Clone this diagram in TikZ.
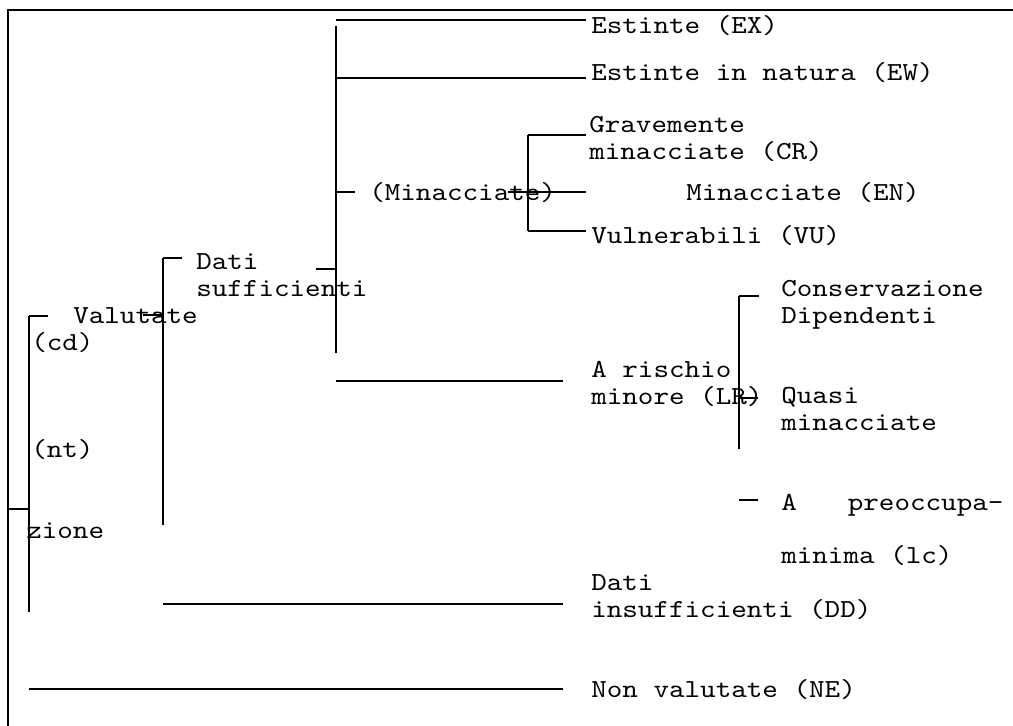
\documentclass[tikz,border=0pt]{standalone}
\usepackage{fontspec}
\newfontfamily\courfont{lmmono10-regular.otf}[FakeStretch=1.14]
\usetikzlibrary{positioning}

\begin{document}
\begin{tikzpicture}[x=1pt, y=-1pt, line width=2.6pt,
 lbl/.style={anchor=base west, inner sep=0pt, align=left,
 font=\courfont\fontsize{26}{27}\selectfont}]
 \useasboundingbox (0,0) rectangle (1013,726);
 % frame
 \coordinate (fb) at (8,726); \coordinate (fc) at (8,10); \coordinate (fr) at (1013,10);
 \draw (fb) -- (fc) -- (fr);
 % labels (base = last line)
 \node[lbl] (val) at (72,323) {Valutate};
 \node[lbl] (cd) at (30,350) {(cd)};
 \node[lbl] (nt) at (30,457) {(nt)};
 \node[lbl] (zi) at (25,538) {zione};
 \node[lbl] (ds) at (195,296) {Dati\\sufficienti};
 \node[lbl] (ex) at (590,33) {Estinte (EX)};
 \node[lbl] (ew) at (590,80) {Estinte in natura (EW)};
 \node[lbl] (mi) at (368,200) {(Minacciate)};
 \node[lbl] (cr) at (588,159) {Gravemente\\minacciate (CR)};
 \node[lbl] (en) at (685,200) {Minacciate (EN)};
 \node[lbl] (vu) at (590,243) {Vulnerabili (VU)};
 \node[lbl] (lr) at (590,404) {A rischio\\minore (LR)};
 \node[lbl] (cdp) at (780,323) {Conservazione\\Dipendenti};
 \node[lbl] (nqt) at (780,430) {Quasi\\minacciate};
 \node[lbl] (lc) at (780,510) {A\hspace{51pt}preoccupa-};
 \node[lbl] (lc2) at (780,563) {minima (lc)};
 \node[lbl] (dd) at (590,617) {Dati\\insufficienti (DD)};
 \node[lbl] (ne) at (590,697) {Non valutate (NE)};
 % branch points
 \coordinate (r0) at (8,509); \coordinate (r1) at (29,509);
 \coordinate (a1) at (29,316); \coordinate (a2) at (29,612); \coordinate (a3) at (48,316);
 \coordinate (n0) at (29,689); \coordinate (n1) at (563,689);
 \coordinate (b1) at (163,258); \coordinate (b2) at (163,525); \coordinate (b3) at (182,258);
 \coordinate (b4) at (143,315); \coordinate (b5) at (163,315);
 \coordinate (d0) at (163,604); \coordinate (d1) at (563,604);
 \coordinate (c1) at (336,26); \coordinate (c2) at (336,353);
 \coordinate (c3) at (316,269); \coordinate (c4) at (336,269);
 \coordinate (e0) at (336,20); \coordinate (e1) at (586,20);
 \coordinate (w0) at (336,78); \coordinate (w1) at (586,78);
 \coordinate (m0) at (336,192); \coordinate (m1) at (355,192);
 \coordinate (l0) at (336,381); \coordinate (l1) at (563,381);
 \coordinate (g1) at (528,135); \coordinate (g2) at (528,231);
 \coordinate (g3) at (586,135); \coordinate (g4) at (508,192); \coordinate (g5) at (586,192);
 \coordinate (g6) at (586,231);
 \coordinate (h1) at (739,296); \coordinate (h2) at (739,449); \coordinate (h3) at (759,296);
 \coordinate (h4) at (739,398); \coordinate (h5) at (758,398);
 \coordinate (h6) at (739,500); \coordinate (h7) at (758,500);
 % tree
 \draw (r0) -- (r1) (a1) -- (a2) (a1) -- (a3) (n0) -- (n1);
 \draw (b1) -- (b2) (b1) -- (b3) (b4) -- (b5) (d0) -- (d1);
 \draw (c1) -- (c2) (c3) -- (c4) (e0) -- (e1) (w0) -- (w1) (m0) -- (m1) (l0) -- (l1);
 \draw (g1) -- (g2) (g1) -- (g3) (g4) -- (g5) (g2) -- (g6);
 \draw (h1) -- (h2) (h1) -- (h3) (h4) -- (h5) (h6) -- (h7);
\end{tikzpicture}
\end{document}
